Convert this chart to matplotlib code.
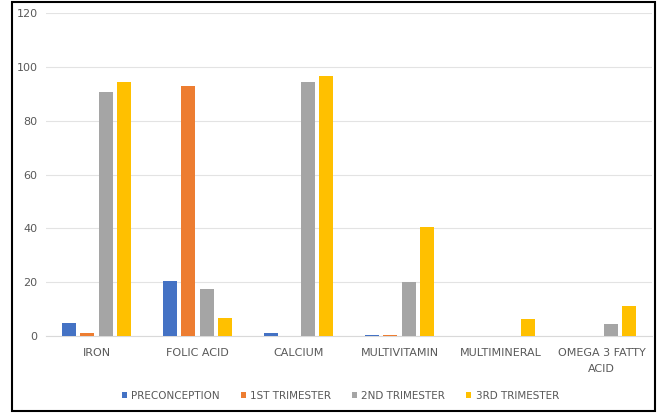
import numpy as np
import matplotlib.pyplot as plt
from matplotlib.patches import Rectangle

categories = ["IRON", "FOLIC ACID", "CALCIUM", "MULTIVITAMIN", "MULTIMINERAL", "OMEGA 3 FATTY\nACID"]
series = ["PRECONCEPTION", "1ST TRIMESTER", "2ND TRIMESTER", "3RD TRIMESTER"]
preconception = [5, 20.5, 1.2, 0.4, 0, 0]
trimester1 = [1.2, 93, 0, 0.4, 0, 0]
trimester2 = [90.5, 17.5, 94.5, 20, 0, 4.5]
trimester3 = [94.5, 6.8, 96.5, 40.5, 6.5, 11.2]
colors = ["#4472C4", "#ED7D31", "#A5A5A5", "#FFC000"]

fig = plt.figure(figsize=(6.61, 4.13), dpi=100)
ax = fig.add_axes([46 / 661, 77 / 413, 606 / 661, 323 / 413])

x = np.arange(len(categories))
width = 0.14
offsets = [-0.27, -0.09, 0.09, 0.27]
for vals, off, col, name in zip([preconception, trimester1, trimester2, trimester3], offsets, colors, series):
    ax.bar(x + off, vals, width, color=col, label=name, zorder=3)

ax.set_xlim(-0.5, len(categories) - 0.5)
ax.set_ylim(0, 120)
ax.set_yticks(range(0, 121, 20))
ax.set_xticks(x)
ax.set_xticklabels(categories, fontsize=8, color="#595959", linespacing=1.7)
ax.tick_params(axis="y", labelsize=8, labelcolor="#595959", length=0, pad=6)
ax.tick_params(axis="x", length=0, pad=9)
ax.grid(axis="y", color="#E3E3E3", linewidth=0.8, zorder=0)
for s in ["top", "right", "left"]:
    ax.spines[s].set_visible(False)
ax.spines["bottom"].set_color("#D9D9D9")

handles, labels = ax.get_legend_handles_labels()
fig.legend(handles, labels, loc="center", bbox_to_anchor=(0.515, 1 - 396 / 413), ncol=4,
           frameon=False, fontsize=7.5, labelcolor="#595959", handlelength=0.5, handleheight=0.5,
           handletextpad=0.4, columnspacing=2.0)

# outer frame
fig.add_artist(Rectangle((12 / 661, 2 / 413), 643 / 661, 409 / 413, transform=fig.transFigure,
                         fill=False, edgecolor="black", linewidth=1.5))

fig.savefig("out.png", dpi=100)
